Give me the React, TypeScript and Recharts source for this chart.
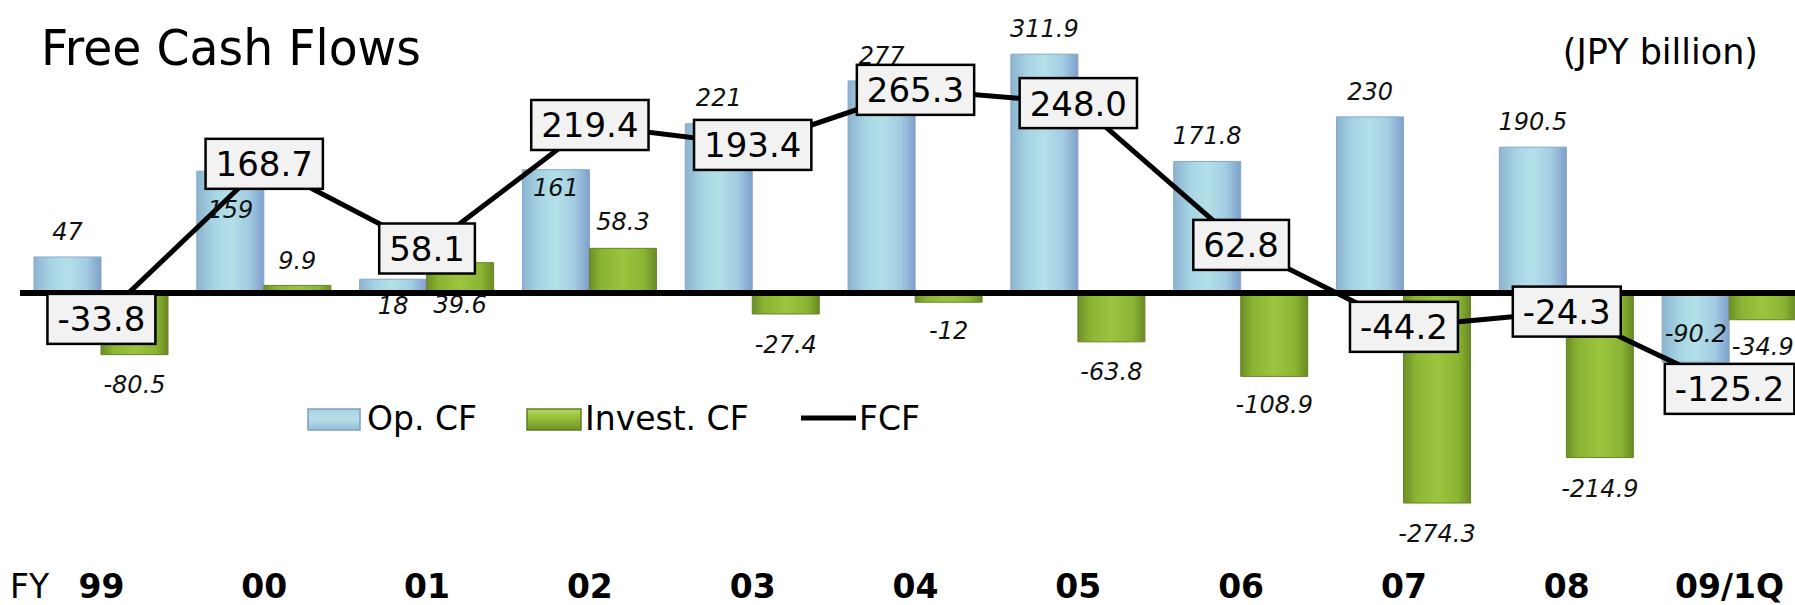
import React from 'react';
import { ComposedChart, Bar, Line, XAxis, YAxis, ReferenceLine, LabelList } from 'recharts';

const categories = ['99', '00', '01', '02', '03', '04', '05', '06', '07', '08', '09/1Q'];
const opCF = [47, 159, 18, 161, 221, 277, 311.9, 171.8, 230, 190.5, -90.2];
const investCF = [-80.5, 9.9, 39.6, 58.3, -27.4, -12, -63.8, -108.9, -274.3, -214.9, -34.9];
const fcf = [-33.8, 168.7, 58.1, 219.4, 193.4, 265.3, 248.0, 62.8, -44.2, -24.3, -125.2];
const seriesNames = ['Op. CF', 'Invest. CF', 'FCF'];

// label placement (px away from the bar end; negative = inside)
const opLabelOffset = [26, -38, -26, -18, 26, 26, 26, 26, 26, 26, -29];
const investLabelOffset = [30, 25, -42, 27, 30, 28, 30, 28, 30, 31, 27];

const data = categories.map((fy, i) => ({ fy, op: opCF[i], inv: investCF[i], fcf: fcf[i] }));

const FONT = '"DejaVu Sans", sans-serif';

const charW = (s: string) => {
  let w = 0;
  for (const c of s) {
    if (c === '.') w += 0.318;
    else if (c === '-') w += 0.361;
    else w += 0.636;
  }
  return w;
};

const makeBarLabel = (offsets: number[]) => (props: any) => {
  const { x, y, width, height, value, index } = props;
  const top = Math.min(y, y + height);
  const bottom = Math.max(y, y + height);
  const off = offsets[index] ?? 26;
  const cy = value >= 0 ? top - off : bottom + off;
  const fs = 24;
  return (
    <text
      x={x + width / 2}
      y={cy + fs * 0.36}
      textAnchor="middle"
      fontFamily={FONT}
      fontStyle="italic"
      fontSize={fs}
      fill="#111"
    >
      {String(value)}
    </text>
  );
};

const FcfLabel = (props: any) => {
  const { x, y, value } = props;
  const s = Number(value).toFixed(1);
  const fs = 34;
  const w = charW(s) * fs + 20;
  const h = 50;
  return (
    <g>
      <rect x={x - w / 2} y={y - h / 2} width={w} height={h} fill="#f2f2f2" stroke="#000" strokeWidth={2.5} />
      <text x={x} y={y + fs * 0.365} textAnchor="middle" fontFamily={FONT} fontSize={fs} fill="#000">
        {s}
      </text>
    </g>
  );
};

const XTick = (props: any) => {
  const { x, payload } = props;
  return (
    <text x={x} y={598} textAnchor="middle" fontFamily={FONT} fontWeight="bold" fontSize={33} fill="#000">
      {payload.value}
    </text>
  );
};

const LegendSvg = () => (
  <svg width={640} height={44} style={{ position: 'absolute', left: 300, top: 395 }}>
    <defs>
      <linearGradient id="lgBlue" x1="0" y1="0" x2="0" y2="1">
        <stop offset="0%" stopColor="#a9d3e3" />
        <stop offset="50%" stopColor="#b7e0ea" />
        <stop offset="100%" stopColor="#94bcd6" />
      </linearGradient>
      <linearGradient id="lgGreen" x1="0" y1="0" x2="0" y2="1">
        <stop offset="0%" stopColor="#b5d860" />
        <stop offset="35%" stopColor="#9cc43e" />
        <stop offset="100%" stopColor="#6f9228" />
      </linearGradient>
    </defs>
    <rect x={8} y={14} width={52} height={21} fill="url(#lgBlue)" stroke="#7f9fc0" strokeWidth={1.5} />
    <text x={67} y={35} fontFamily={FONT} fontSize={33} fill="#000">{seriesNames[0]}</text>
    <rect x={227} y={14} width={54} height={21} fill="url(#lgGreen)" stroke="#5f7d20" strokeWidth={1.5} />
    <text x={285} y={35} fontFamily={FONT} fontSize={33} fill="#000">{seriesNames[1]}</text>
    <line x1={501} x2={556} y1={23} y2={23} stroke="#000" strokeWidth={5} />
    <text x={559} y={35} fontFamily={FONT} fontSize={33} fill="#000">{seriesNames[2]}</text>
  </svg>
);

export default function App() {
  return (
    <div
      style={{
        position: 'absolute',
        left: 0,
        top: 0,
        width: 1795,
        height: 605,
        overflow: 'hidden',
        background: '#fff',
      }}
    >
      <ComposedChart
        width={1832}
        height={605}
        data={data}
        margin={{ top: 25, right: 21, left: 20, bottom: 0 }}
        barGap={0}
        barSize={67}
      >
        <defs>
          <linearGradient id="gBlue" x1="0" y1="0" x2="1" y2="0">
            <stop offset="0%" stopColor="#8cb3cf" />
            <stop offset="25%" stopColor="#a6d4e4" />
            <stop offset="50%" stopColor="#b3e0e8" />
            <stop offset="78%" stopColor="#a2cce2" />
            <stop offset="100%" stopColor="#7f9fcb" />
          </linearGradient>
          <linearGradient id="gGreen" x1="0" y1="0" x2="1" y2="0">
            <stop offset="0%" stopColor="#6e8e26" />
            <stop offset="18%" stopColor="#8ab433" />
            <stop offset="50%" stopColor="#9cc43e" />
            <stop offset="82%" stopColor="#8ab433" />
            <stop offset="100%" stopColor="#6a8a24" />
          </linearGradient>
        </defs>
        <XAxis dataKey="fy" height={44} axisLine={false} tickLine={false} tick={<XTick />} interval={0} />
        <YAxis hide domain={[-350, 350]} />
        <Bar dataKey="op" name={seriesNames[0]} fill="url(#gBlue)" stroke="#86a6c6" strokeWidth={1} isAnimationActive={false}>
          <LabelList dataKey="op" content={makeBarLabel(opLabelOffset)} />
        </Bar>
        <Bar dataKey="inv" name={seriesNames[1]} fill="url(#gGreen)" stroke="#66852a" strokeWidth={1} isAnimationActive={false}>
          <LabelList dataKey="inv" content={makeBarLabel(investLabelOffset)} />
        </Bar>
        <ReferenceLine y={0} stroke="#000" strokeWidth={6} />
        <Line
          dataKey="fcf"
          name={seriesNames[2]}
          stroke="#000"
          strokeWidth={5}
          dot={false}
          activeDot={false}
          isAnimationActive={false}
        >
          <LabelList dataKey="fcf" content={FcfLabel} />
        </Line>
      </ComposedChart>
      <LegendSvg />
      <svg
        width={1795}
        height={605}
        style={{ position: 'absolute', left: 0, top: 0, pointerEvents: 'none' }}
      >
        <text x={41} y={65} fontFamily={FONT} fontSize={50} textLength={380} lengthAdjust="spacingAndGlyphs" fill="#000">
          Free Cash Flows
        </text>
        <text x={1758} y={64} textAnchor="end" fontFamily={FONT} fontSize={35} fill="#000">
          (JPY billion)
        </text>
        <text x={10} y={598} fontFamily={FONT} fontSize={33} fill="#000">
          FY
        </text>
      </svg>
    </div>
  );
}
